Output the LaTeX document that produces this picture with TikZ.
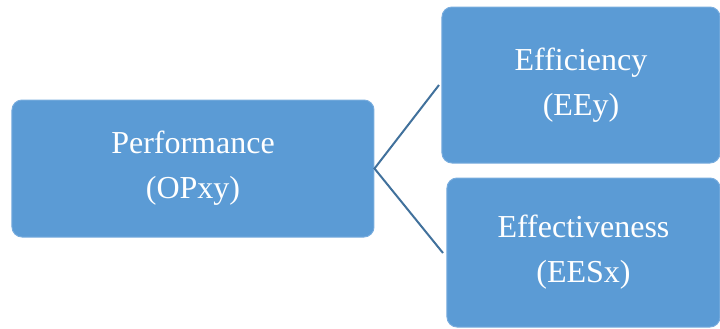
\documentclass[tikz,border=0pt]{standalone}
\usepackage{fontspec}
\setmainfont{Liberation Serif}
\usepackage{xcolor}
\usetikzlibrary{positioning}
\definecolor{clrBox}{RGB}{91,155,213}
\definecolor{clrEdge}{RGB}{120,172,222}
\definecolor{clrLink}{RGB}{65,113,156}
\tikzset{
  measure/.style={rectangle,rounded corners=5pt,draw=clrEdge,line width=0.5pt,
    fill=clrBox,text=white,align=center,inner sep=0pt,
    font=\fontsize{16}{22.5}\selectfont},
  link/.style={draw=clrLink,line width=1pt}
}
\begin{document}
\begin{tikzpicture}[x=0.5pt,y=-0.5pt]
  \useasboundingbox (0,0) rectangle (720,328);

  \node[measure,minimum width=181pt,minimum height=68.5pt] (perf) at (193,168.5)
    {Performance\\(OPxy)};
  \node[measure,minimum width=139pt,minimum height=78pt] (effi) at (581,85)
    {Efficiency\\(EEy)};
  \node[measure,minimum width=136.5pt,minimum height=74.5pt] (effe) at (583.5,252.5)
    {Effectiveness\\(EESx)};

  \coordinate (effiend) at (439,85);
  \coordinate (effeend) at (443,253);
  \draw[link] (effiend) -- (perf.east) -- (effeend);
\end{tikzpicture}
\end{document}
